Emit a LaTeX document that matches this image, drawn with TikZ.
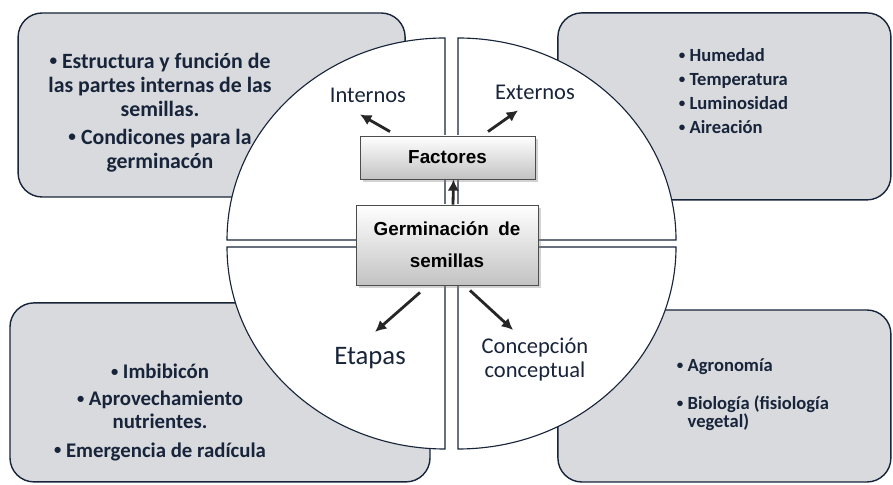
\documentclass[tikz,border=0pt]{standalone}
\usepackage{fontspec}
\setmainfont{Carlito}
\newfontfamily\arialfont{Liberation Sans}
\usetikzlibrary{arrows.meta,shadows}
\definecolor{navy}{RGB}{24,36,58}
\definecolor{panelgray}{RGB}{216,218,222}
\definecolor{coregray}{RGB}{195,195,195}
\newcommand{\itm}{\raisebox{0.12em}{\scalebox{0.7}{•}}\ }

\begin{document}
\begin{tikzpicture}[
  panel/.style={draw=navy, line width=1pt, fill=panelgray, rounded corners=0.6cm},
  quad/.style={draw=navy, line width=0.8pt, fill=white},
  core/.style={draw=black!70, line width=0.6pt, top color=white, bottom color=coregray,
    drop shadow={shadow xshift=2pt, shadow yshift=-2pt, opacity=0.35},
    font=\arialfont\bfseries\fontsize{13.4}{22.7}\selectfont, align=center},
  lbl/.style={text=navy, align=center},
  items/.style={text=navy},
  arr/.style={-{Latex[length=8pt,width=8pt]}, line width=2pt, black!85}
]
\useasboundingbox (0,0) rectangle (22.325,12.1);

%Cuadros grises
\node [panel, minimum width=9.675cm, minimum height=4.6cm]
(pInt)at(5.29,9.475){};
\node [panel, minimum width=8.325cm, minimum height=4.675cm]
(pExt)at(18.11,9.44){};
\node [panel, minimum width=10.5cm, minimum height=4.475cm]
(pEta)at(5.5,2.29){};
\node [panel, minimum width=8.325cm, minimum height=4.3cm]
(pCon)at(18.11,2.2){};

%Cuadrantes
\draw [quad] (11.125,6.1) -- ++(-5.45,0) arc [start angle=180, end angle=90, x radius=5.45cm, y radius=5.05cm] -- cycle;
\draw [quad] (11.45,6.1) -- ++(5.45,0) arc [start angle=0, end angle=90, x radius=5.45cm, y radius=5.05cm] -- cycle;
\draw [quad] (11.125,5.925) -- ++(-5.45,0) arc [start angle=180, end angle=270, x radius=5.45cm, y radius=5.05cm] -- cycle;
\draw [quad] (11.45,5.925) -- ++(5.45,0) arc [start angle=0, end angle=-90, x radius=5.45cm, y radius=5.05cm] -- cycle;

%Textos de los cuadros
\node [items, align=center, font=\bfseries\fontsize{15.5}{17}\selectfont]
(tInt)at(4.0,9.29){\itm Estructura y función de\\ las partes internas de las\\ semillas.\\[3pt] \itm Condicones para la\\ germinacón};
\node [items, align=left, anchor=west, font=\bfseries\fontsize{13.2}{17}\selectfont]
(tExt)at(16.85,9.825){\itm Humedad\\ \itm Temperatura\\ \itm Luminosidad\\ \itm Aireación};
\node [items, align=center, font=\bfseries\fontsize{14.8}{16.3}\selectfont]
(tEta)at(4.0,1.79){\itm Imbibicón\\[3pt] \itm Aprovechamiento\\ nutrientes.\\[4pt] \itm Emergencia de radícula};
\node [items, align=left, anchor=west, font=\bfseries\fontsize{13.2}{12}\selectfont]
(tCon)at(16.8,2.225){\itm Agronomía\\[14pt] \itm Biología (fisiología\\ \hphantom{\itm}vegetal)};

%Etiquetas
\node [lbl, font=\fontsize{16}{17}\selectfont] (int)at(9.2,9.725){Internos};
\node [lbl, font=\fontsize{16}{17}\selectfont] (ext)at(13.375,9.8){Externos};
\node [lbl, font=\fontsize{19}{22}\selectfont] (etap)at(9.25,3.15){Etapas};
\node [lbl, font=\fontsize{16}{17}\selectfont] (conc)at(13.375,3.1){Concepción\\ conceptual};

%Factores
\node [core, minimum width=4.375cm, minimum height=1.075cm]
(fact)at(11.1875,8.1625){Factores};
%Germinacion
\node [core, minimum width=4.55cm, minimum height=2cm]
(germ)at(11.175,5.975){Germinación\enspace de\\ semillas};

\draw [arr]([xshift=0.15cm]germ.north)--([xshift=0.15cm]fact.south);
\draw [arr]([shift={(-1.4375,0.1)}]fact.north)--([shift={(-0.2,-0.18)}]int.south);
\draw [arr]([shift={(1.0125,0.1)}]fact.north)--([shift={(-0.425,-0.155)}]ext.south);
\draw [arr]([shift={(-0.675,-0.175)}]germ.south)--([shift={(0.125,0.26)}]etap.north);
\draw [arr]([shift={(0.575,-0.125)}]germ.south)--([shift={(-0.55,0.09)}]conc.north);

\end{tikzpicture}
\end{document}
